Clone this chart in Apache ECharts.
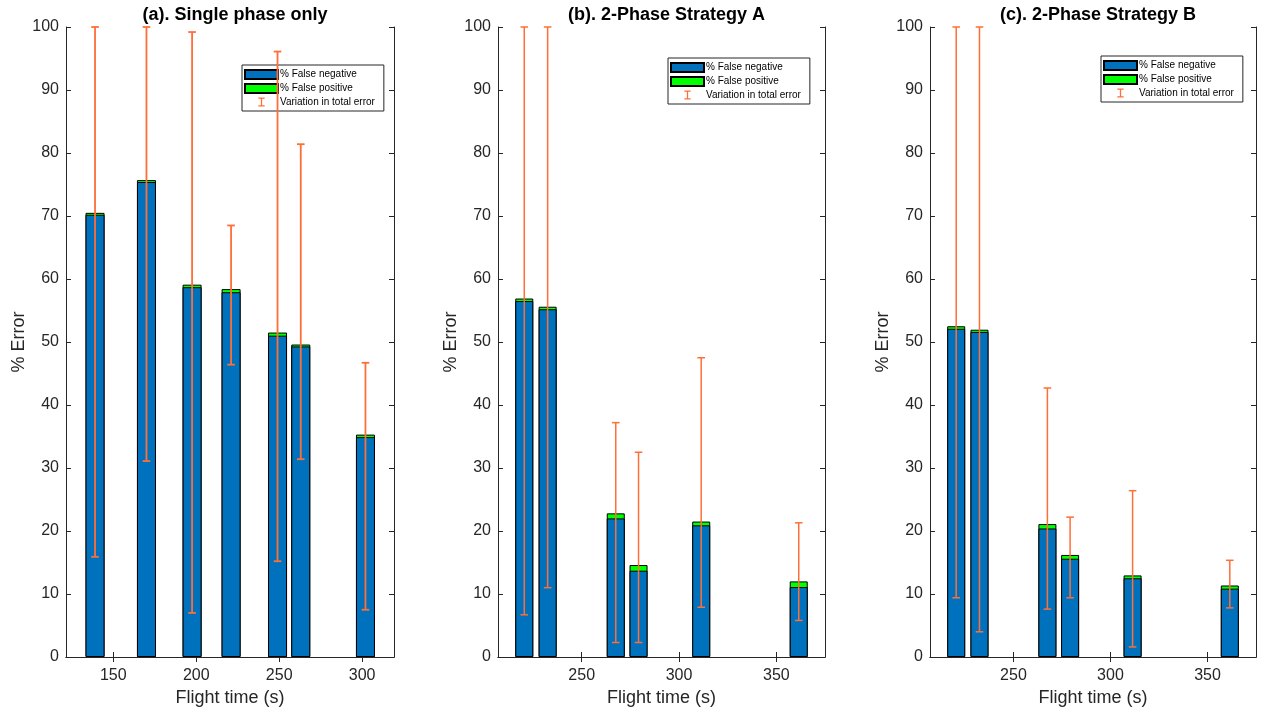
<!DOCTYPE html>
<html>
<head>
<meta charset="utf-8">
<script src="https://cdn.jsdelivr.net/npm/echarts@6/dist/echarts.min.js"></script>
<style>
html,body{margin:0;padding:0;background:#fff;}
#chart{width:1263px;height:713px;}
</style>
</head>
<body>
<div id="chart"></div>
<script>
// ---------- data ----------
const titles = ['(a). Single phase only', '(b). 2-Phase Strategy A', '(c). 2-Phase Strategy B'];
const seriesNames = ['% False negative', '% False positive', 'Variation in total error'];

const timesA = [139, 170, 197.5, 221, 249, 263, 302];
const fnA    = [70.2, 75.4, 58.7, 57.9, 51.0, 49.3, 34.9];
const fpA    = [0.3, 0.3, 0.4, 0.5, 0.5, 0.3, 0.4];
const lowA   = [15.9, 31.1, 7.0, 46.4, 15.2, 31.4, 7.5];
const highA  = [100, 100, 99.2, 68.5, 96.1, 81.4, 46.7];
const ticksA = [150, 200, 250, 300];

const timesB = [220.5, 232.5, 267.5, 279.2, 311.4, 361.5];
const fnB    = [56.5, 55.2, 22.0, 13.7, 20.9, 11.1];
const fpB    = [0.4, 0.4, 0.8, 0.9, 0.6, 0.9];
const lowB   = [6.7, 11.0, 2.3, 2.3, 7.9, 5.8];
const highB  = [100, 100, 37.2, 32.5, 47.5, 21.3];

const timesC = [220.5, 232.5, 267.5, 279.2, 311.4, 361.5];
const fnC    = [52.1, 51.6, 20.4, 15.6, 12.5, 10.85];
const fpC    = [0.4, 0.35, 0.7, 0.6, 0.45, 0.5];
const lowC   = [9.4, 4.0, 7.6, 9.4, 1.6, 7.8];
const highC  = [100, 100, 42.7, 22.2, 26.4, 15.35];
const ticksBC = [250, 300, 350];

// ---------- layout / style ----------
const FONT = "'Liberation Sans', Arial, Helvetica, sans-serif";
const AX = '#262626';
const BLUE = '#0072BD', GREEN = '#00FF00', ORANGE = '#FF6E37';

const panels = [
  {times: timesA, fn: fnA, fp: fpA, low: lowA, high: highA, ticks: ticksA,
   xmin: 121.5, xmax: 319.2, left: 66, width: 328, barW: 19, lw: 1.8,
   legLeft: 242, legTop: 65},
  {times: timesB, fn: fnB, fp: fpB, low: lowB, high: highB, ticks: ticksBC,
   xmin: 207, xmax: 375, left: 498, width: 327, barW: 18, lw: 1.5,
   legLeft: 668, legTop: 58},
  {times: timesC, fn: fnC, fp: fpC, low: lowC, high: highC, ticks: ticksBC,
   xmin: 207, xmax: 375, left: 930, width: 326, barW: 18, lw: 1.5,
   legLeft: 1101, legTop: 56}
];

const grid = [], xAxis = [], yAxis = [], series = [], title = [], legend = [];
const errIcon = 'path://M0,0H7V1.4H0Z M2.8,0H4.2V10H2.8Z M0,8.6H7V10H0Z';

panels.forEach((p, i) => {
  grid.push({left: p.left, top: 27, width: p.width, height: 630});
  title.push({
    text: titles[i], left: p.left + p.width / 2, top: 1, textAlign: 'center',
    textStyle: {fontFamily: FONT, fontSize: 18, fontWeight: 'bold', color: '#000'}
  });
  xAxis.push({
    type: 'value', gridIndex: i, min: p.xmin, max: p.xmax, position: 'bottom',
    name: 'Flight time (s)', nameLocation: 'middle', nameGap: 32,
    nameTextStyle: {fontFamily: FONT, fontSize: 18, color: AX},
    axisLine: {show: true, lineStyle: {color: AX, width: 1}},
    axisTick: {show: true, inside: true, length: 5, customValues: p.ticks, lineStyle: {color: AX}},
    axisLabel: {show: true, customValues: p.ticks, margin: 11, fontFamily: FONT, fontSize: 16, color: AX},
    splitLine: {show: false}
  });
  xAxis.push({
    type: 'value', gridIndex: i, min: p.xmin, max: p.xmax, position: 'top',
    axisLine: {show: true, lineStyle: {color: AX, width: 1}},
    axisTick: {show: true, inside: true, length: 5, customValues: p.ticks, lineStyle: {color: AX}},
    axisLabel: {show: false}, splitLine: {show: false}
  });
  yAxis.push({
    type: 'value', gridIndex: i, min: 0, max: 100, interval: 10, position: 'left',
    name: '% Error', nameLocation: 'middle', nameGap: 38,
    nameTextStyle: {fontFamily: FONT, fontSize: 18, color: AX},
    axisLine: {show: true, lineStyle: {color: AX, width: 1}},
    axisTick: {show: true, inside: true, length: 5, lineStyle: {color: AX}},
    axisLabel: {show: true, margin: 7, fontFamily: FONT, fontSize: 16, color: AX},
    splitLine: {show: false}
  });
  yAxis.push({
    type: 'value', gridIndex: i, min: 0, max: 100, interval: 10, position: 'right',
    axisLine: {show: true, lineStyle: {color: AX, width: 1}},
    axisTick: {show: true, inside: true, length: 5, lineStyle: {color: AX}},
    axisLabel: {show: false}, splitLine: {show: false}
  });

  const xi = i * 2, yi = i * 2;
  // total (FN + FP) drawn in green behind, FN drawn in blue on top -> stacked look
  series.push({
    name: seriesNames[1], type: 'bar', xAxisIndex: xi, yAxisIndex: yi,
    barWidth: p.barW, barGap: '-100%', z: 2,
    itemStyle: {color: GREEN, borderColor: '#000', borderWidth: 1},
    data: p.times.map((t, k) => [t, p.fn[k] + p.fp[k]]), silent: true
  });
  series.push({
    name: seriesNames[0], type: 'bar', xAxisIndex: xi, yAxisIndex: yi,
    barWidth: p.barW, barGap: '-100%', z: 3,
    itemStyle: {color: BLUE, borderColor: '#000', borderWidth: 1},
    data: p.times.map((t, k) => [t, p.fn[k]]), silent: true
  });
  const lw = p.lw;
  series.push({
    name: seriesNames[2], type: 'custom', xAxisIndex: xi, yAxisIndex: yi,
    itemStyle: {color: ORANGE}, z: 5, silent: true, clip: false,
    encode: {x: 0, y: [1, 2]},
    data: p.times.map((t, k) => [t, p.low[k], p.high[k]]),
    renderItem: function (params, api) {
      const x = api.value(0), lo = api.value(1), hi = api.value(2);
      const a = api.coord([x, lo]), b = api.coord([x, hi]);
      const w = 3.8;
      const st = {stroke: ORANGE, lineWidth: lw, fill: null};
      return {type: 'group', children: [
        {type: 'line', shape: {x1: a[0], y1: a[1], x2: b[0], y2: b[1]}, style: st},
        {type: 'line', shape: {x1: a[0] - w, y1: a[1], x2: a[0] + w, y2: a[1]}, style: st},
        {type: 'line', shape: {x1: b[0] - w, y1: b[1], x2: b[0] + w, y2: b[1]}, style: st}
      ]};
    }
  });

  legend.push({
    orient: 'vertical', left: p.legLeft, top: p.legTop,
    backgroundColor: '#fff', borderColor: AX, borderWidth: 1,
    padding: [4, 9, 4, 2], itemGap: 3, itemWidth: 33, itemHeight: 9,
    selectedMode: false,
    textStyle: {fontFamily: FONT, fontSize: 10, color: '#000', padding: [0, 0, 0, -3]},
    data: [
      {name: seriesNames[0], icon: 'rect'},
      {name: seriesNames[1], icon: 'rect'},
      {name: seriesNames[2], icon: errIcon, itemStyle: {color: ORANGE, borderWidth: 0}}
    ]
  });
});

const chart = echarts.init(document.getElementById('chart'), null, {renderer: 'canvas'});
chart.setOption({
  animation: false,
  backgroundColor: '#fff',
  title, legend, grid, xAxis, yAxis, series
});
</script>
</body>
</html>
